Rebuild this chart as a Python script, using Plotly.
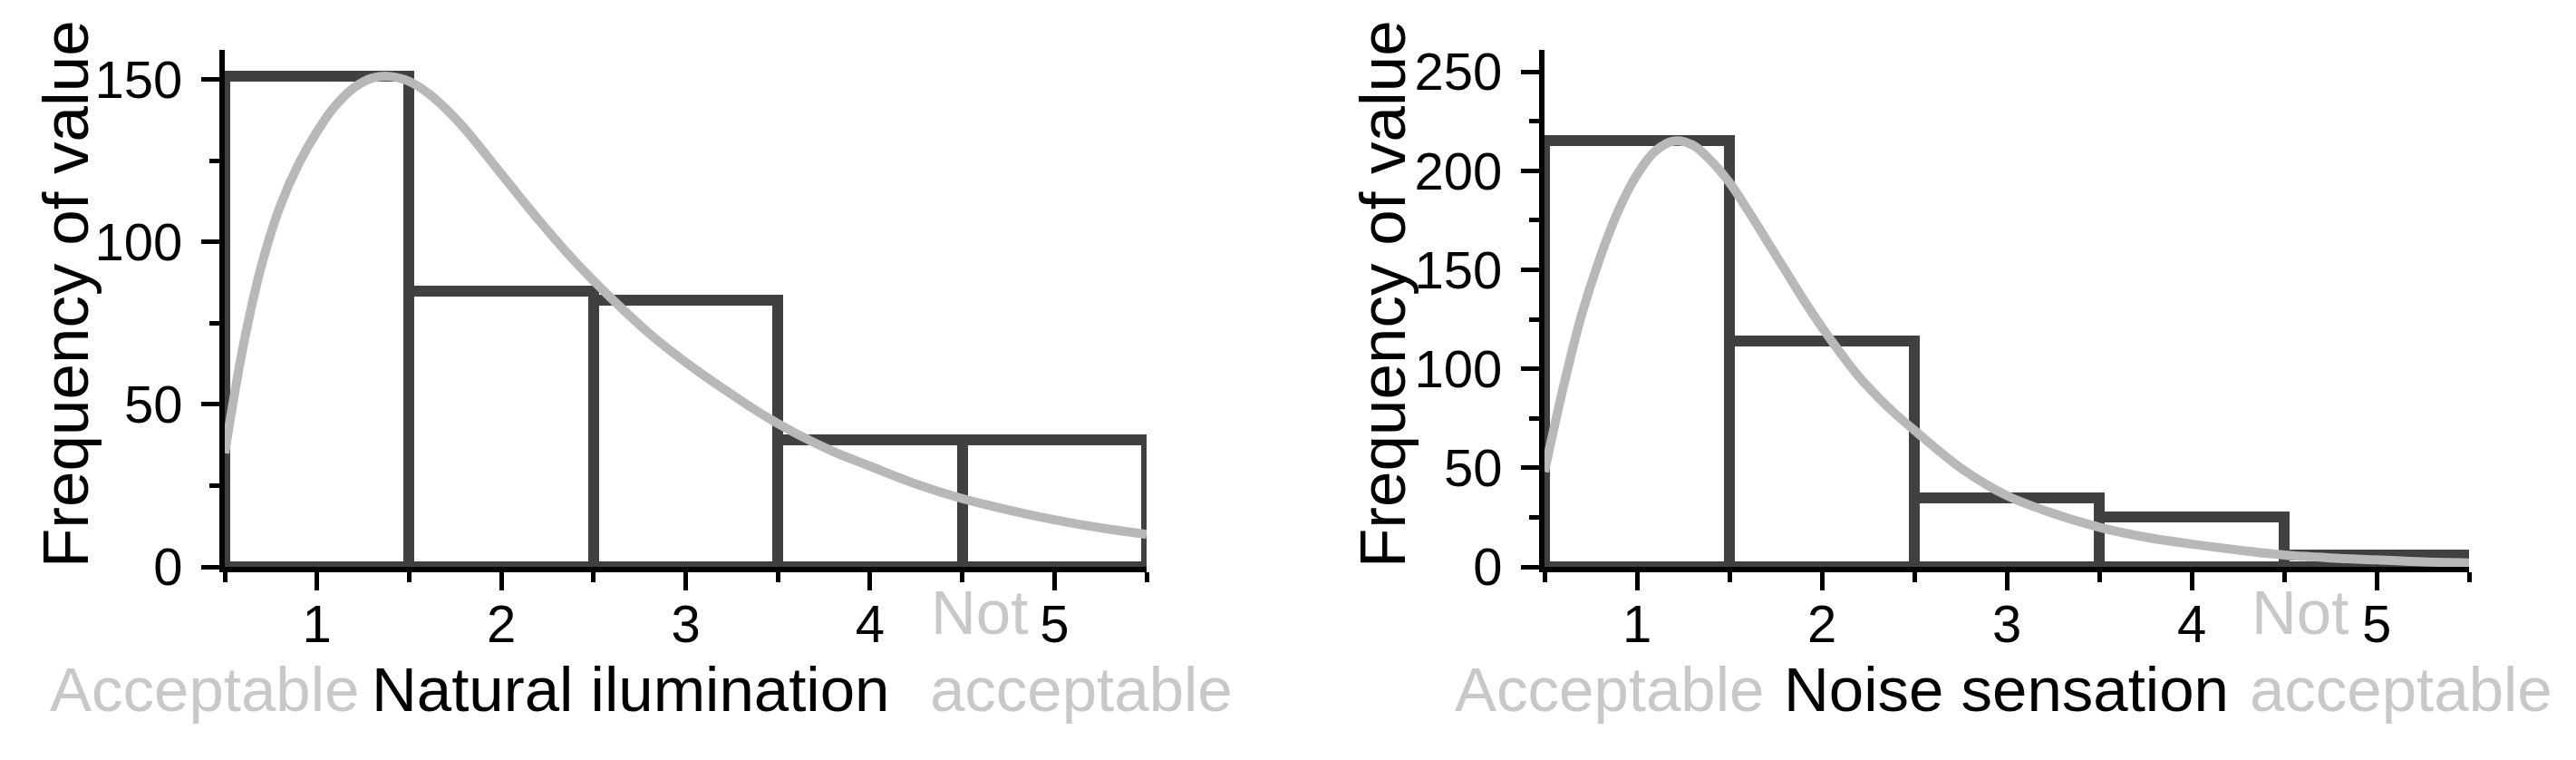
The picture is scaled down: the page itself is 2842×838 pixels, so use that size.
import plotly.graph_objects as go

# ---- data ----
scores = [1, 2, 3, 4, 5]
illum_counts = [151, 85, 82, 39, 39]
noise_counts = [215, 114, 35, 25, 6]

illum_fit_x = [0.5, 0.6, 0.7, 0.8, 0.9, 1.0, 1.1, 1.2, 1.3, 1.4, 1.5, 1.6, 1.7, 1.8, 2.0,
               2.2, 2.4, 2.6, 2.8, 3.0, 3.2, 3.4, 3.6, 3.8, 4.0, 4.25, 4.5, 4.75, 5.0, 5.25, 5.5]
illum_fit_y = [35, 68, 93, 111, 124, 134, 142, 147.5, 150.5, 151, 149.5, 146, 141, 135, 121,
               107, 94, 82.5, 72, 63, 55, 47.5, 41, 35.5, 31, 25.5, 21, 17.5, 14.5, 12, 10]

noise_fit_x = [0.5, 0.6, 0.7, 0.8, 0.9, 1.0, 1.1, 1.2, 1.3, 1.4, 1.5, 1.6, 1.7, 1.8, 1.9,
               2.0, 2.1, 2.2, 2.3, 2.4, 2.5, 2.75, 3.0, 3.25, 3.5, 3.75, 4.0, 4.25, 4.5,
               4.75, 5.0, 5.25, 5.5]
noise_fit_y = [48, 90, 127, 156, 180, 198, 210, 215, 213, 205, 194, 180, 165, 150, 135,
               121, 108, 96, 86, 77, 69, 50, 36, 27, 20, 15, 11.5, 8.5, 6,
               4.5, 3.5, 2.5, 2]

x_ticks = [1, 2, 3, 4, 5]
x_minor = [0.5, 1.5, 2.5, 3.5, 4.5, 5.5]
illum_y_ticks = [0, 50, 100, 150]
illum_y_minor = [25, 75, 125]
noise_y_ticks = [0, 50, 100, 150, 200, 250]
noise_y_minor = [25, 75, 125, 175, 225]

W, H = 2842, 838
FONT = "Liberation Sans, Arial, sans-serif"
BAR_LINE = "#404040"
CURVE = "#b8b8b8"
SOFT = "#c8c8c8"


def px_x(p):
    return p / W


def px_y(p):
    return (H - p) / H


fig = go.Figure()

for xa, ya, counts, fx, fy in [("x", "y", illum_counts, illum_fit_x, illum_fit_y),
                               ("x2", "y2", noise_counts, noise_fit_x, noise_fit_y)]:
    fig.add_trace(go.Bar(
        x=scores, y=counts, width=1, xaxis=xa, yaxis=ya,
        marker=dict(color="rgba(255,255,255,0)", line=dict(color=BAR_LINE, width=12)),
        showlegend=False
    ))
    fig.add_trace(go.Scatter(
        x=fx, y=fy, mode="lines", xaxis=xa, yaxis=ya,
        line=dict(color=CURVE, width=10, shape="spline", smoothing=1.0),
        showlegend=False
    ))

axis_common = dict(
    showline=True, linecolor="black", linewidth=6, mirror=False,
    ticks="outside", ticklen=20, tickwidth=5, tickcolor="black",
    showgrid=False, zeroline=False, automargin=False,
    tickfont=dict(family=FONT, size=58, color="black"),
)
minor_common = dict(tickmode="array", ticks="outside", ticklen=11, tickwidth=5, tickcolor="black")

# page body adds an 8px offset, so plot positions are given 8px up/left
fig.update_layout(
    template="none",
    width=W, height=H,
    margin=dict(l=0, r=0, t=0, b=0, autoexpand=False),
    paper_bgcolor="white", plot_bgcolor="white",
    bargap=0, showlegend=False,
    xaxis=dict(domain=[px_x(240), px_x(1257)], range=[0.5, 5.5], anchor="y",
               tickmode="array", tickvals=x_ticks, ticklabelstandoff=-13,
               minor=dict(tickvals=x_minor, **minor_common), **axis_common),
    yaxis=dict(domain=[px_y(617), px_y(47)], range=[0, 159.2], anchor="x",
               tickmode="array", tickvals=illum_y_ticks, ticklabelstandoff=9,
               minor=dict(tickvals=illum_y_minor, **minor_common), **axis_common),
    xaxis2=dict(domain=[px_x(1696), px_x(2716)], range=[0.5, 5.5], anchor="y2",
                tickmode="array", tickvals=x_ticks, ticklabelstandoff=-13,
                minor=dict(tickvals=x_minor, **minor_common), **axis_common),
    yaxis2=dict(domain=[px_y(617), px_y(47)], range=[0, 261], anchor="x2",
                tickmode="array", tickvals=noise_y_ticks, ticklabelstandoff=9,
                minor=dict(tickvals=noise_y_minor, **minor_common), **axis_common),
)


def label(text, x, y, color="black", xanchor="left", angle=0, size=69):
    fig.add_annotation(
        text=text, x=px_x(x), y=px_y(y), xref="paper", yref="paper",
        xanchor=xanchor, yanchor="middle", showarrow=False, textangle=angle,
        font=dict(family=FONT, size=size, color=color)
    )


# left panel texts
label("Frequency of value", 65, 316, angle=-90, xanchor="center", size=71)
label("Acceptable", 390, 752, SOFT, xanchor="right")
label("Natural ilumination", 400, 752)
label("Not", 1017, 667, SOFT)
label("acceptable", 1016, 752, SOFT)

# right panel texts
label("Frequency of value", 1518, 316, angle=-90, xanchor="center", size=71)
label("Acceptable", 1595, 752, SOFT)
label("Noise sensation", 2205, 752, xanchor="center")
label("Not", 2474, 667, SOFT)
label("acceptable", 2472, 752, SOFT)

fig.write_html("out.html")
